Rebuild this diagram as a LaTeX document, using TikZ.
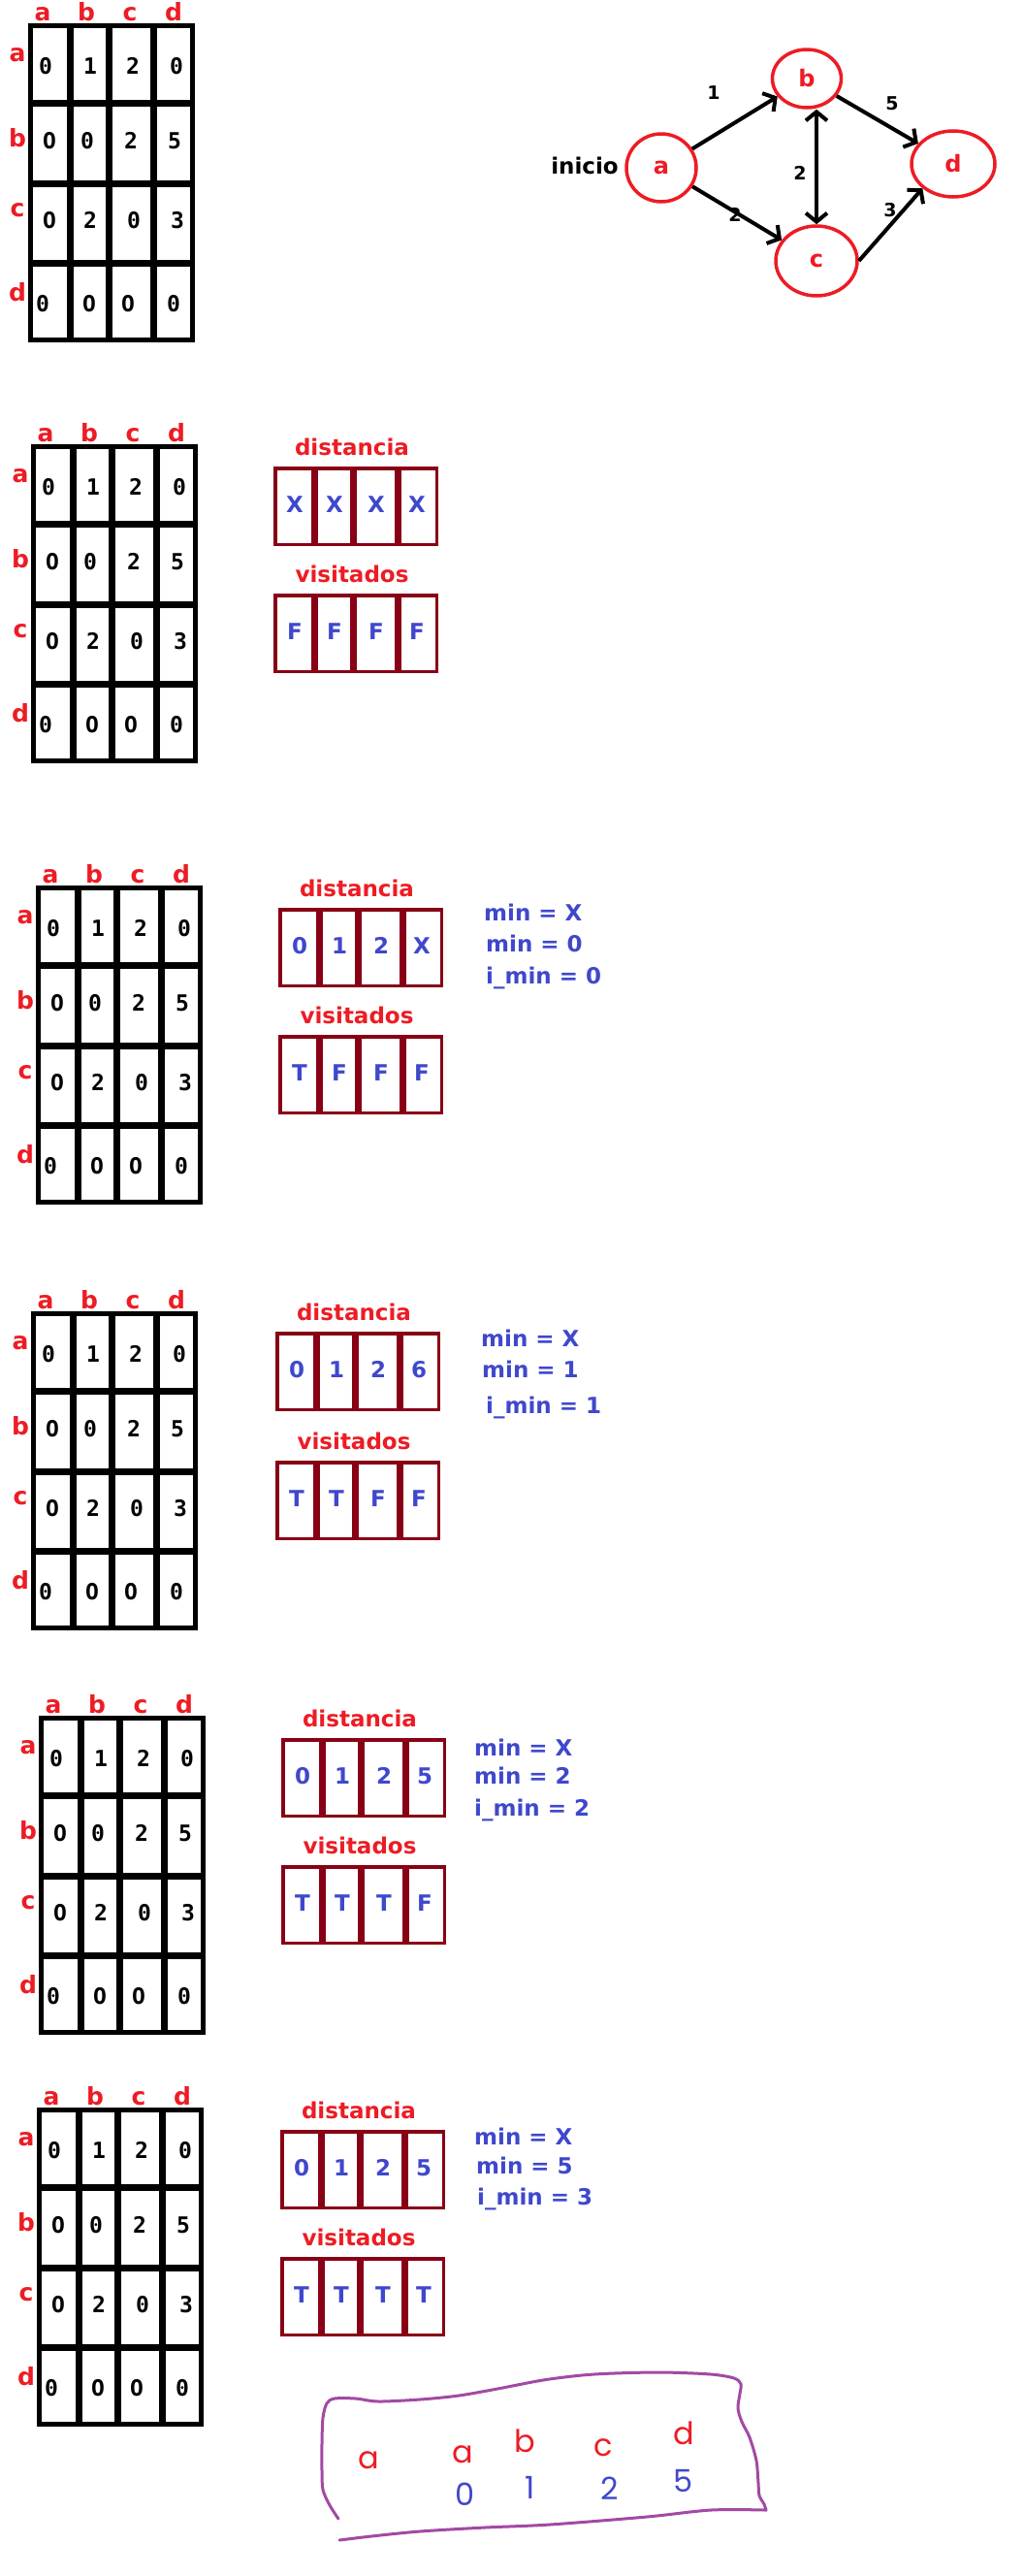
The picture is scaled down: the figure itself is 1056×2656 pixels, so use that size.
\documentclass[tikz,border=0pt]{standalone}
\usepackage{fontspec}
\setmainfont{DejaVu Sans}
\newfontfamily\monob{DejaVu Sans Mono}
\newfontfamily\handf{Poppins}
\usetikzlibrary{shapes.geometric,arrows.meta}
\definecolor{pred}{HTML}{ED1C24}
\definecolor{pdark}{HTML}{880015}
\definecolor{pblue}{HTML}{3F48CC}
\definecolor{ppurple}{HTML}{A349A4}
\tikzset{
 hdr/.style={text=pred, font=\bfseries\fontsize{25}{25}\selectfont, inner sep=0pt, anchor=base},
 cellnum/.style={font=\monob\bfseries\fontsize{23}{23}\selectfont, inner sep=0pt, anchor=base},
 gridouter/.style={draw=black, line width=5pt},
 griddiv/.style={draw=black, line width=7pt},
 boxouter/.style={draw=pdark, line width=3.5pt},
 boxdiv/.style={draw=pdark, line width=7pt},
 boxtitle/.style={text=pred, font=\bfseries\fontsize{23}{23}\selectfont, inner sep=0pt, anchor=base},
 boxval/.style={text=pblue, font=\bfseries\fontsize{23}{23}\selectfont, inner sep=0pt, anchor=base},
 mintxt/.style={text=pblue, font=\bfseries\fontsize{23}{23}\selectfont, inner sep=0pt, anchor=base west},
 gnode/.style={ellipse, draw=pred, line width=3.5pt, text=pred, font=\bfseries\fontsize{24}{24}\selectfont, inner sep=0pt},
 gedge/.style={draw=black, line width=4pt, -{Straight Barb[length=9pt,width=22pt]}},
 elab/.style={font=\bfseries\fontsize{19}{19}\selectfont, inner sep=0pt},
 handred/.style={text=pred, font=\handf\fontsize{32}{32}\selectfont, inner sep=0pt, anchor=base},
 handblue/.style={text=pblue, font=\handf\fontsize{32}{32}\selectfont, inner sep=0pt, anchor=base},
 outline/.style={draw=ppurple, line width=3pt, line cap=round, line join=round},
}
\newcommand{\adjmat}[3]{%
\begin{scope}[shift={(#1,#2)}]
 \draw[gridouter] (2.5,2.5) rectangle (169.5,326.5);
 \foreach \xx in {43,83,129} \draw[griddiv] (\xx,0) -- (\xx,329);
 \foreach \yy in {82,165,247} \draw[griddiv] (0,\yy) -- (172,\yy);
 \node[hdr] (#3-ha) at (15,-3) {a};
 \node[hdr] (#3-hb) at (60,-3) {b};
 \node[hdr] (#3-hc) at (105,-3) {c};
 \node[hdr] (#3-hd) at (150,-3) {d};
 \node[hdr] (#3-ra) at (-11,39) {a};
 \node[hdr] (#3-rb) at (-11,127) {b};
 \node[hdr] (#3-rc) at (-11,199) {c};
 \node[hdr] (#3-rd) at (-11,286) {d};
 \node[cellnum] (#3-aa) at (18,52) {0};
 \node[cellnum] (#3-ab) at (64,52) {1};
 \node[cellnum] (#3-ac) at (108,52) {2};
 \node[cellnum] (#3-ad) at (153,52) {0};
 \node[cellnum] (#3-ba) at (22,129) {O};
 \node[cellnum] (#3-bb) at (61,129) {0};
 \node[cellnum] (#3-bc) at (106,129) {2};
 \node[cellnum] (#3-bd) at (151,129) {5};
 \node[cellnum] (#3-ca) at (22,211) {O};
 \node[cellnum] (#3-cb) at (64,211) {2};
 \node[cellnum] (#3-cc) at (109,211) {0};
 \node[cellnum] (#3-cd) at (154,211) {3};
 \node[cellnum] (#3-da) at (15,297) {0};
 \node[cellnum] (#3-db) at (63,297) {O};
 \node[cellnum] (#3-dc) at (103,297) {O};
 \node[cellnum] (#3-dd) at (150,297) {0};
\end{scope}}
\newcommand{\valbox}[8]{%
\begin{scope}[shift={(#1,#2)}]
 \draw[boxouter] (1.75,1.75) rectangle (168.25,80.25);
 \foreach \xx in {42,82,128} \draw[boxdiv] (\xx,0) -- (\xx,82);
 \node[boxtitle] (#3-t) at (81,-12) {#4};
 \node[boxval] (#3-v1) at (22,47) {#5};
 \node[boxval] (#3-v2) at (63,47) {#6};
 \node[boxval] (#3-v3) at (106,47) {#7};
 \node[boxval] (#3-v4) at (148,47) {#8};
\end{scope}}
\begin{document}
\begin{tikzpicture}[x=1pt,y=-1pt]
\useasboundingbox (0,0) rectangle (1056,2656);
% section 1
\adjmat{29}{24}{m1}
\node[gnode, minimum width=72pt, minimum height=70pt] (ga) at (682,173) {a};
\node[gnode, minimum width=71pt, minimum height=60pt] (gb) at (832,81) {b};
\node[gnode, minimum width=84pt, minimum height=72pt] (gc) at (842,269) {c};
\node[gnode, minimum width=86pt, minimum height=68pt] (gd) at (983,169) {d};
\node[font=\bfseries\fontsize{23}{23}\selectfont, inner sep=0pt] (inicio) at (603,171) {inicio};
\draw[gedge] (ga) -- (gb);
\draw[gedge] (ga) -- (gc);
\draw[gedge, {Straight Barb[length=9pt,width=22pt]}-{Straight Barb[length=9pt,width=22pt]}] (gb.south -| gc.north) -- (gc.north);
\draw[gedge] (gb) -- (gd);
\draw[gedge] (gc.east) -- (gd.south west);
\node[elab] (l1) at (736,96) {1};
\node[elab] (l2) at (758,221) {2};
\node[elab] (l3) at (825,178) {2};
\node[elab] (l4) at (920,107) {5};
\node[elab] (l5) at (918,217) {3};
% section 2
\adjmat{32}{458}{m2}
\valbox{282}{481}{d2}{distancia}{X}{X}{X}{X}
\valbox{282}{612}{v2}{visitados}{F}{F}{F}{F}
% section 3
\adjmat{37}{913}{m3}
\valbox{287}{936}{d3}{distancia}{0}{1}{2}{X}
\valbox{287}{1067}{v3}{visitados}{T}{F}{F}{F}
\node[mintxt] (s3a) at (499,949) {min = X};
\node[mintxt] (s3b) at (501,981) {min = 0};
\node[mintxt] (s3c) at (501,1014) {i\_min = 0};
% section 4
\adjmat{32}{1352}{m4}
\valbox{284}{1373}{d4}{distancia}{0}{1}{2}{6}
\valbox{284}{1506}{v4}{visitados}{T}{T}{F}{F}
\node[mintxt] (s4a) at (496,1388) {min = X};
\node[mintxt] (s4b) at (497,1420) {min = 1};
\node[mintxt] (s4c) at (501,1457) {i\_min = 1};
% section 5
\adjmat{40}{1769}{m5}
\valbox{290}{1792}{d5}{distancia}{0}{1}{2}{5}
\valbox{290}{1923}{v5}{visitados}{T}{T}{T}{F}
\node[mintxt] (s5a) at (489,1810) {min = X};
\node[mintxt] (s5b) at (489,1839) {min = 2};
\node[mintxt] (s5c) at (489,1872) {i\_min = 2};
% section 6
\adjmat{38}{2173}{m6}
\valbox{289}{2196}{d6}{distancia}{0}{1}{2}{5}
\valbox{289}{2327}{v6}{visitados}{T}{T}{T}{T}
\node[mintxt] (s6a) at (489,2211) {min = X};
\node[mintxt] (s6b) at (491,2241) {min = 5};
\node[mintxt] (s6c) at (492,2273) {i\_min = 3};
% hand-drawn summary
\draw[outline] plot[smooth] coordinates {(349,2597) (340,2583) (333,2567) (332,2547) (332,2520) (333,2493) (337,2478) (345,2473) (367,2473) (390,2476) (433,2474) (473,2470) (513,2463) (560,2454) (600,2449) (633,2447) (683,2446) (733,2448) (757,2452) (764,2458) (763,2468) (761,2483) (765,2497) (773,2513) (780,2537) (782,2560) (783,2573) (788,2582) (790,2588)};
\draw[outline] plot[smooth] coordinates {(790,2588) (733,2588) (667,2595) (567,2603) (500,2606) (433,2610) (383,2615) (350,2619)};
\node[handred] (h1) at (380,2545) {a};
\node[handred] (h2) at (477,2539) {a};
\node[handred] (h3) at (541,2528) {b};
\node[handred] (h4) at (622,2532) {c};
\node[handred] (h5) at (705,2520) {d};
\node[handblue] (h6) at (480,2583) {0};
\node[handblue] (h7) at (547,2576) {1};
\node[handblue] (h8) at (629,2577) {2};
\node[handblue] (h9) at (705,2569) {5};
\end{tikzpicture}
\end{document}
